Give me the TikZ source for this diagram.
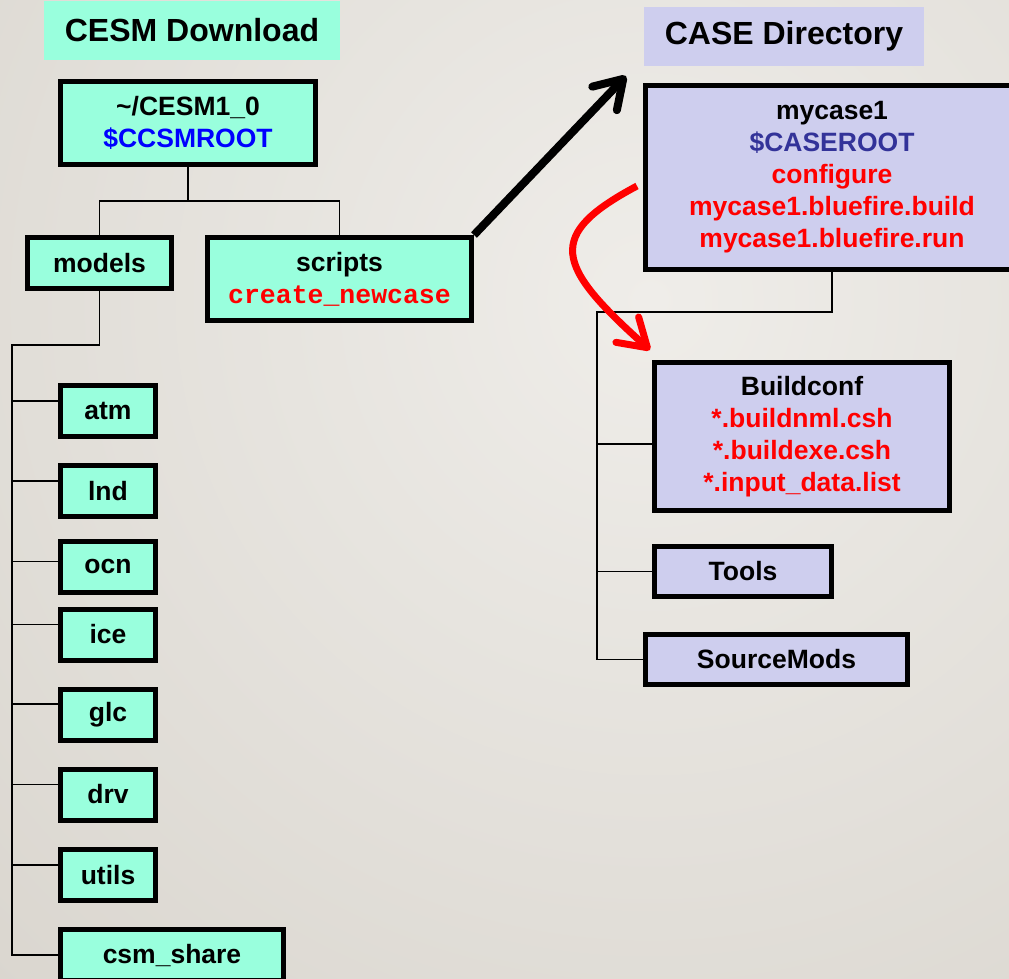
\documentclass[tikz,border=0pt]{standalone}
\usepackage{fontspec}
\setmainfont{Liberation Sans}
\setmonofont{Liberation Mono}
\usetikzlibrary{arrows.meta}
\definecolor{teal1}{RGB}{153,255,221}
\definecolor{lav}{RGB}{206,206,238}
\definecolor{casebl}{RGB}{51,51,153}
\definecolor{bgL}{RGB}{239,237,233}
\definecolor{bgD}{RGB}{218,214,207}
\begin{document}
\begin{tikzpicture}[x=1pt,y=-1pt,
  box/.style={draw=black, line width=5pt, inner sep=0pt, align=center,
    font=\fontsize{26.5}{32}\selectfont\bfseries},
  cbox/.style={box, fill=teal1},
  lbox/.style={box, fill=lav},
  hdr/.style={inner sep=0pt, font=\fontsize{32}{38}\selectfont\bfseries},
  conn/.style={line width=1.8pt},
  bigarrow/.style={line width=8pt, -{Straight Barb[length=27pt,width=34pt,round]}},
  redarrow/.style={line width=7pt, red, -{Straight Barb[length=27pt,width=34pt,round]}},
]
\useasboundingbox (0,0) rectangle (1009,978);
\begin{scope}
  \clip (0,0) rectangle (1009,978);
  \shade[inner color=bgL, outer color=bgD] (650,300) circle (950);
\end{scope}

% headers
\node[hdr, fill=teal1, minimum width=296pt, minimum height=59pt] (hcesm) at (192,30.5) {CESM Download};
\node[hdr, fill=lav, minimum width=280pt, minimum height=59pt] (hcase) at (784,36.5) {CASE Directory};

% left tree
\node[cbox, minimum width=255pt, minimum height=83pt] (root) at (188,123)
  {\textasciitilde/CESM1\_0\\\textcolor{blue}{\$CCSMROOT}};
\node[cbox, minimum width=144pt, minimum height=51pt] (models) at (99.5,263) {models};
\node[cbox, minimum width=264pt, minimum height=83pt] (scripts) at (339.5,279)
  {scripts\\\textcolor{red}{\ttfamily\bfseries create\_newcase}};

\node[cbox, minimum width=95pt, minimum height=51pt] (atm) at (108,411) {atm};
\node[cbox, minimum width=95pt, minimum height=51pt] (lnd) at (108,491) {lnd};
\node[cbox, minimum width=95pt, minimum height=51pt] (ocn) at (108,566.5) {ocn};
\node[cbox, minimum width=95pt, minimum height=51pt] (ice) at (108,634.5) {ice};
\node[cbox, minimum width=95pt, minimum height=51pt] (glc) at (108,715) {glc};
\node[cbox, minimum width=95pt, minimum height=51pt] (drv) at (108,794.5) {drv};
\node[cbox, minimum width=95pt, minimum height=51pt] (utils) at (108,875) {utils};
\node[cbox, minimum width=223pt, minimum height=51pt] (csm) at (172,955) {csm\_share};

\coordinate (J1) at (188,201);
\coordinate (T) at (12,345);

\draw[conn] (root.south) -- (J1) -| (models.north);
\draw[conn] (J1) -| (scripts.north);
\draw[conn] (models.south) |- (T) |- (csm.west);
\foreach \n/\s in {atm/10,lnd/10,ocn/5,ice/10,glc/11,drv/10,utils/10}
  \draw[conn] ([yshift=\s pt]\n.west) -- ([yshift=\s pt]\n.west -| T);

% right tree (mycase1 box runs past the right edge)
\node[lbox, minimum width=400pt, minimum height=184pt] (mycase) at (845.5,177.5)
  {\begin{tabular}{@{}c@{}}mycase1\\\textcolor{casebl}{\$CASEROOT}\\\textcolor{red}{configure}\\
   \textcolor{red}{mycase1.bluefire.build}\\\textcolor{red}{mycase1.bluefire.run}\end{tabular}\hspace*{27pt}};
\node[lbox, minimum width=295pt, minimum height=148pt] (bc) at (802,436.5)
  {Buildconf\\\textcolor{red}{*.buildnml.csh}\\\textcolor{red}{*.buildexe.csh}\\
   \textcolor{red}{*.input\_data.list}};
\node[lbox, minimum width=177pt, minimum height=50pt] (tools) at (743,571.5) {Tools};
\node[lbox, minimum width=262pt, minimum height=50pt] (smods) at (776.5,659.5) {SourceMods};

\coordinate (R) at (597,312);
\coordinate (Rtop) at (832,272);
\draw[conn] (Rtop) |- (R) |- (smods.west);
\draw[conn] ([yshift=-7.5pt]bc.west) -- ([yshift=-7.5pt]bc.west -| R);
\draw[conn] (tools.west) -- (tools.west -| R);

% arrows
\coordinate (tipA) at (626,76);
\draw[bigarrow] (scripts.north east) -- (tipA);
\draw[redarrow] ([xshift=-6pt,yshift=-8.5pt]mycase.west)
  .. controls (545,235) and (555,265) .. ([xshift=-2pt,yshift=10pt]bc.north west);
\end{tikzpicture}
\end{document}
